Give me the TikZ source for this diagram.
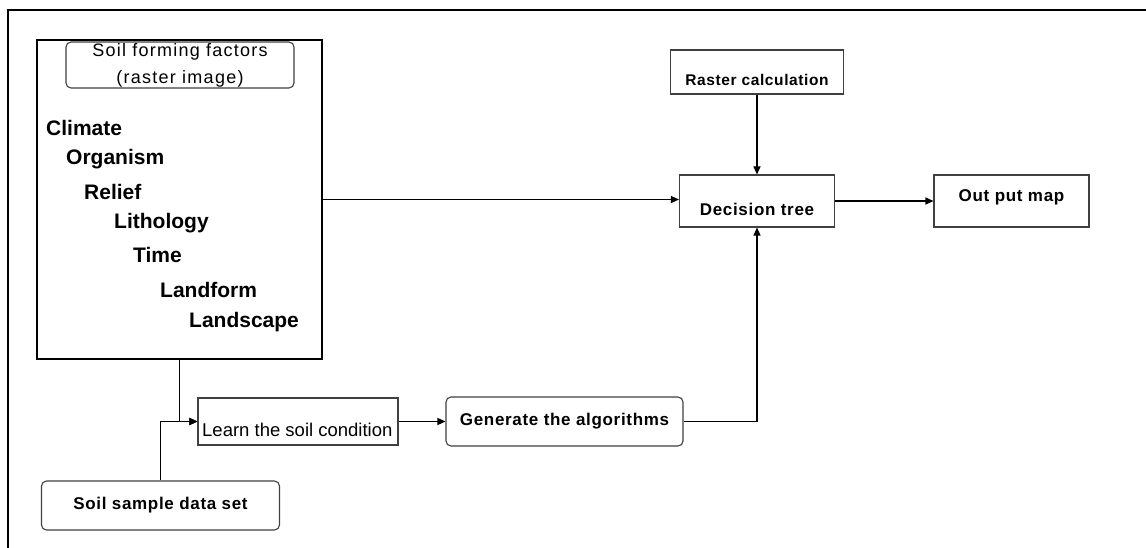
\documentclass[tikz,border=0pt]{standalone}
\usepackage{fontspec}
\setmainfont{Liberation Sans}
\newfontfamily\spacedr[LetterSpace=7]{Liberation Sans}
\newfontfamily\spacedb[LetterSpace=4]{Liberation Sans}
\usetikzlibrary{arrows.meta}
\begin{document}
\begin{tikzpicture}[x=1pt,y=-1pt,
  box/.style={draw=black!75, line width=1.1pt, inner sep=0, rectangle},
  rbox/.style={box, rounded corners=5pt},
  lab/.style={inner sep=0, font=\spacedb\bfseries\fontsize{17}{20}\selectfont},
  fac/.style={inner sep=0, anchor=base west, font=\bfseries\fontsize{21}{25}\selectfont},
  conn/.style={line width=1.1pt, black},
  arr/.style={conn, -{Triangle[length=8pt,width=7pt]}}]
\useasboundingbox (0,0) rectangle (1146,548);
\fill[white] (0,0) rectangle (1146,548);
% outer frame
\coordinate (fbl) at (8,548);
\coordinate (ftl) at (8,10);
\coordinate (ftr) at (1146,10);
\draw[line width=2pt] (fbl) -- (ftl) -- (ftr);
% factors box
\node[box, draw=black, minimum width=285pt, minimum height=319pt] (fac) at (179.5,199.5) {};
\node[rbox, minimum width=228pt, minimum height=46pt, align=center,
      font=\spacedr\fontsize{18}{27}\selectfont] (sff) at (180,65) {Soil forming factors\\(raster image)};
\node[fac] (f1) at (46,136) {Climate};
\node[fac] (f2) at (66,165) {Organism};
\node[fac] (f3) at (84,200) {Relief};
\node[fac] (f4) at (114,229) {Lithology};
\node[fac] (f5) at (133,262) {Time};
\node[fac] (f6) at (160,297) {Landform};
\node[fac] (f7) at (189,327) {Landscape};
% right side
\node[box, minimum width=173pt, minimum height=44pt,
      label={[lab,yshift=-8pt,font=\spacedb\bfseries\fontsize{15.5}{18}\selectfont]center:Raster calculation}] (rc) at (757,72) {};
\node[box, minimum width=155pt, minimum height=52pt,
      label={[lab,yshift=-8pt]center:Decision tree}] (dt) at (757,201) {};
\node[box, minimum width=155pt, minimum height=52pt,
      label={[lab,yshift=4pt]center:Out put map}] (om) at (1011.5,201) {};
% bottom
\node[box, minimum width=200pt, minimum height=47pt] (learn) at (298,421.5) {};
\node[inner sep=0, anchor=base west, font=\fontsize{18.5}{22}\selectfont] (learntext) at (202,436) {Learn the soil condition};
\node[rbox, minimum width=237pt, minimum height=49pt, lab] (gen) at (564.5,421.5) {Generate the algorithms};
\node[rbox, minimum width=238pt, minimum height=49pt, lab] (soil) at (160.5,505.5) {Soil sample data set};
% connectors
\draw[arr] (fac.east) -- (fac.east -| dt.west);
\draw[arr] (rc.south) -- (dt.north);
\draw[arr] (dt.east) -- (om.west);
\draw[arr] (learn.east) -- (gen.west);
\draw[arr] (gen.east) -| (dt.south);
\draw[arr] (fac.south) |- (learn.west);
\draw[arr] (soil.north) |- (learn.west);
\end{tikzpicture}
\end{document}
